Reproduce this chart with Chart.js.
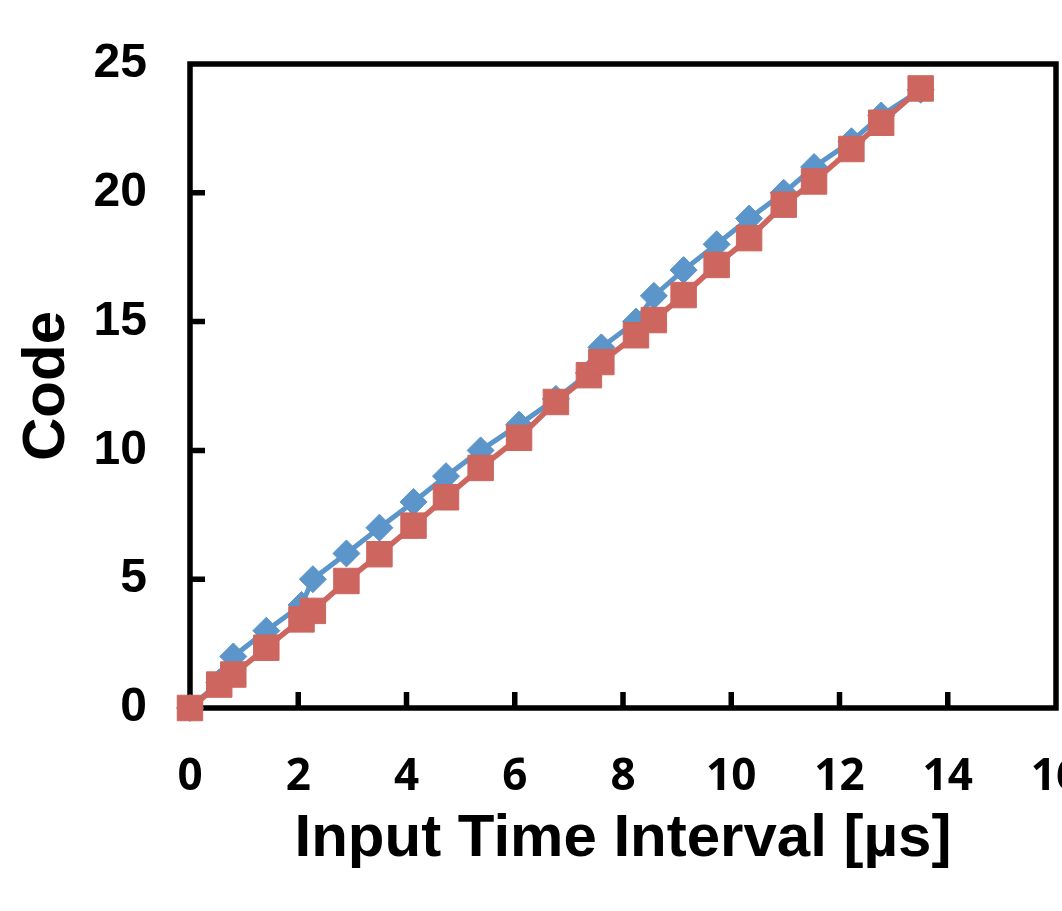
<!DOCTYPE html>
<html>
<head>
<meta charset="utf-8">
<script src="https://cdn.jsdelivr.net/npm/chart.js@4.4.1/dist/chart.umd.min.js"></script>
<style>
html,body{margin:0;padding:0;background:#fff;overflow:hidden;width:1062px;height:911px;}
canvas{display:block;}
</style>
</head>
<body>
<canvas id="c" width="1062" height="963" style="width:1062px;height:963px"></canvas>
<script>
const xValues = [0,0.54,0.80,1.41,2.06,2.27,2.89,3.50,4.13,4.73,5.37,6.08,6.76,7.37,7.60,8.24,8.57,9.12,9.73,10.33,10.97,11.53,12.22,12.77,13.50];
const blueCodes = [0,1,2,3,4,5,6,7,8,9,10,11,12,13,14,15,16,17,18,19,20,21,22,23,24];
const redCodes = [0,0.91,1.30,2.34,3.44,3.77,4.93,5.97,7.08,8.18,9.32,10.49,11.88,12.92,13.43,14.47,15.06,16.03,17.2,18.24,19.54,20.44,21.7,22.72,24.05];
const seriesNames = ['without calibration','with calibration'];
const xTicks = [0,2,4,6,8,10,12,14,16];
const yTicks = [0,5,10,15,20,25];
const xTitle = 'Input Time Interval [\u00b5s]';
const yTitle = 'Code';

const BLUE = '#5B95C9';
const RED = '#CD665F';

const framePlugin = {
  id: 'frame',
  beforeDraw(chart) {
    // the legend in the original is wider than the visible crop: start it further right
    const lg = chart.legend;
    if (lg) { lg.left = 545; lg.right = 5000; }
  },
  beforeDatasetsDraw(chart) {
    const {ctx, chartArea: a, scales} = chart;
    ctx.save();
    ctx.strokeStyle = '#000';
    ctx.lineWidth = 5.5;
    ctx.lineJoin = 'miter';
    ctx.strokeRect(a.left, a.top, a.right - a.left, a.bottom - a.top);
    ctx.beginPath();
    scales.y.ticks.forEach(t => {
      if (t.value <= 0 || t.value >= 25) return;
      const py = scales.y.getPixelForValue(t.value);
      ctx.moveTo(a.left, py); ctx.lineTo(a.left + 15, py);
    });
    scales.x.ticks.forEach(t => {
      if (t.value <= 0 || t.value >= 16) return;
      const px = scales.x.getPixelForValue(t.value);
      ctx.moveTo(px, a.bottom); ctx.lineTo(px, a.bottom - 16);
    });
    ctx.stroke();
    ctx.restore();
  }
};

new Chart(document.getElementById('c'), {
  type: 'line',
  data: {
    datasets: [
      {
        label: seriesNames[0],
        data: xValues.map((x, i) => ({x, y: blueCodes[i]})),
        borderColor: BLUE, backgroundColor: BLUE,
        borderWidth: 5,
        pointStyle: 'rectRot', pointRadius: 13.5, pointBorderWidth: 1,
        pointBackgroundColor: BLUE, pointBorderColor: BLUE,
        order: 1, tension: 0, clip: false
      },
      {
        label: seriesNames[1],
        data: xValues.map((x, i) => ({x, y: redCodes[i]})),
        borderColor: RED, backgroundColor: RED,
        borderWidth: 5.5,
        pointStyle: 'rect', pointRadius: 18, pointBorderWidth: 1,
        pointBackgroundColor: RED, pointBorderColor: RED,
        order: 0, tension: 0, clip: false
      }
    ]
  },
  options: {
    responsive: false,
    animation: false,
    devicePixelRatio: 1,
    layout: {autoPadding: false, padding: {top: 64, right: 6, left: 0, bottom: 0}},
    plugins: {
      tooltip: {enabled: false},
      legend: {
        display: true, position: 'bottom', reverse: true, align: 'start',
        labels: {
          usePointStyle: true, color: '#000', padding: 1,
          boxWidth: 22, boxHeight: 22,
          font: {family: '"Liberation Sans", Arial, sans-serif', size: 44, weight: 'bold'}
        }
      }
    },
    scales: {
      x: {
        type: 'linear', min: 0, max: 16,
        afterBuildTicks: s => { s.ticks = xTicks.map(v => ({value: v})); },
        afterFit: s => { s.height = 200; s.paddingLeft = 0; s.paddingRight = 0; },
        grid: {display: false, drawTicks: false},
        border: {display: false},
        ticks: {
          padding: 43, color: '#000', maxRotation: 0,
          font: {family: '"Liberation Sans Narrow", "Open Sans", sans-serif', size: 44, weight: 'bold'}
        },
        title: {
          display: true, text: xTitle, color: '#000',
          padding: {top: 0, bottom: 33},
          font: {family: '"Liberation Sans", Arial, sans-serif', size: 60, weight: 'bold'}
        }
      },
      y: {
        type: 'linear', min: 0, max: 25,
        afterBuildTicks: s => { s.ticks = yTicks.map(v => ({value: v})); },
        afterFit: s => { s.width = 190; s.paddingTop = 0; s.paddingBottom = 0; },
        grid: {display: false, drawTicks: false},
        border: {display: false},
        ticks: {
          padding: 43, color: '#000',
          font: {family: '"Liberation Sans", Arial, sans-serif', size: 48, weight: 'bold'}
        },
        title: {
          display: true, text: yTitle, color: '#000',
          padding: {top: 11, bottom: 0},
          font: {family: '"Liberation Sans", Arial, sans-serif', size: 60, weight: 'bold'}
        }
      }
    }
  },
  plugins: [framePlugin]
});
</script>
</body>
</html>
